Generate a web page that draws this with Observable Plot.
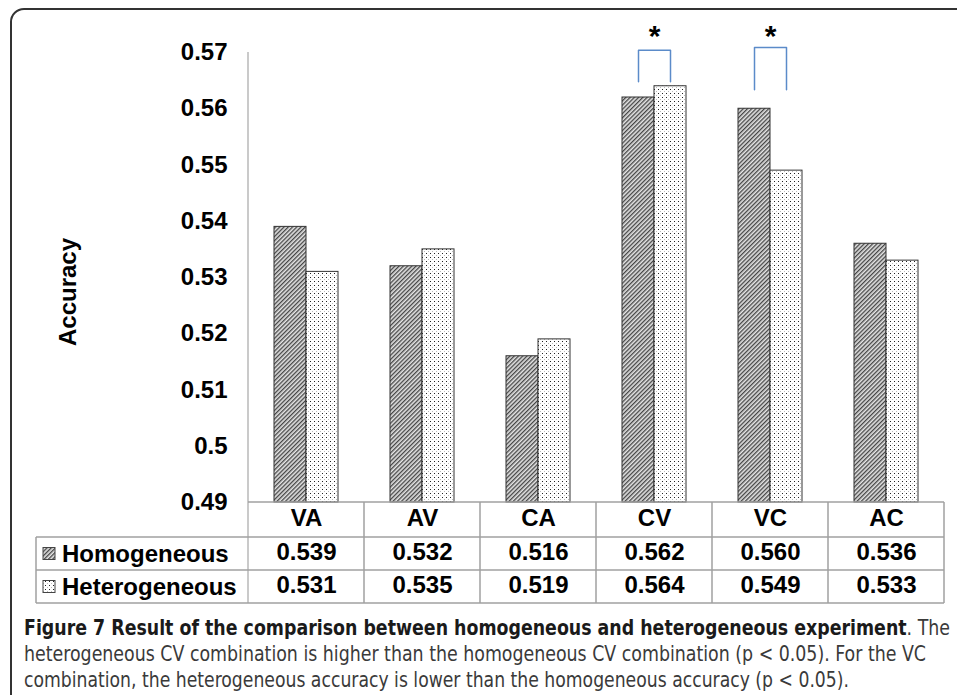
<!DOCTYPE html>
<html><head><meta charset="utf-8">
<script src="https://cdn.jsdelivr.net/npm/d3@7"></script>
<script src="https://cdn.jsdelivr.net/npm/@observablehq/plot@0.6"></script>
<style>
body{margin:0;background:#fff;width:957px;height:695px;overflow:hidden;position:relative;font-family:"Liberation Sans",Arial,sans-serif}
#frame{position:absolute;left:10px;top:8px;width:1000px;height:800px;border:2px solid #333;border-radius:14px;box-sizing:border-box;pointer-events:none}
#chart{position:absolute;left:0;top:0}
#caption{position:absolute;left:24px;top:615px;font-family:"Liberation Sans Narrow","DejaVu Sans Condensed",sans-serif;font-size:21px;line-height:26px;color:#3a3a3a}
#caption .ln{white-space:nowrap;transform-origin:0 50%;display:block;width:max-content}
#caption b{color:#1a1a1a}
</style></head><body>
<svg width="0" height="0" style="position:absolute">
  <defs>
    <pattern id="hatch" width="3" height="3" patternUnits="userSpaceOnUse" patternTransform="rotate(45)">
      <rect width="3" height="3" fill="#e4e4e4"/>
      <line x1="0.75" y1="0" x2="0.75" y2="3" stroke="#111" stroke-width="1"/>
    </pattern>
    <pattern id="dots" width="4" height="4" patternUnits="userSpaceOnUse">
      <rect width="4" height="4" fill="#fff"/>
      <rect x="1" y="1" width="1" height="1" fill="#222"/>
      <rect x="3" y="3" width="1" height="1" fill="#bbb"/>
    </pattern>
  </defs>
</svg>
<div id="frame"></div>
<div id="chart"></div>
<div id="caption">
  <span class="ln" id="l1"><b>Figure 7 Result of the comparison between homogeneous and heterogeneous experiment</b>. The</span>
  <span class="ln" id="l2">heterogeneous CV combination is higher than the homogeneous CV combination (p &lt; 0.05). For the VC</span>
  <span class="ln" id="l3">combination, the heterogeneous accuracy is lower than the homogeneous accuracy (p &lt; 0.05).</span>
</div>
<script>
// ---- data ----
const categories = ["VA", "AV", "CA", "CV", "VC", "AC"];
const series = ["Homogeneous", "Heterogeneous"];
const homogeneous = [0.539, 0.532, 0.516, 0.562, 0.560, 0.536];
const heterogeneous = [0.531, 0.535, 0.519, 0.564, 0.549, 0.533];
const yTicks = [0.49, 0.50, 0.51, 0.52, 0.53, 0.54, 0.55, 0.56, 0.57];
const sigCategories = ["CV", "VC"];
const bracketLow = [0.5648, 0.5634];
const bracketHigh = [0.5704, 0.5709];
const starValue = 0.5728;

// ---- derived tables ----
const rows = categories.flatMap((c, i) => [
  {cat: c, series: series[0], value: homogeneous[i]},
  {cat: c, series: series[1], value: heterogeneous[i]}
]);
const bracketPts = sigCategories.flatMap((c, i) => [
  {cat: c, series: series[0], y: bracketLow[i]},
  {cat: c, series: series[0], y: bracketHigh[i]},
  {cat: c, series: series[1], y: bracketHigh[i]},
  {cat: c, series: series[1], y: bracketLow[i]}
]);
const fmt3 = d3.format(".3f");
const W = 957, H = 612, plotBottom = 502;
const boldFont = {fontSize: 24, fontWeight: "bold", fill: "#000"};

const plot = Plot.plot({
  width: W, height: H,
  marginLeft: 247, marginRight: 13, marginTop: 52, marginBottom: H - plotBottom,
  style: {fontFamily: "'Liberation Sans', Arial, sans-serif", background: "transparent", overflow: "visible"},
  fx: {domain: categories, padding: 0, axis: null},
  x: {domain: series, paddingInner: 0, paddingOuter: 0.76, axis: null},
  y: {domain: [yTicks[0], yTicks[yTicks.length - 1]], axis: null},
  marks: [
    Plot.axisY(yTicks, {tickSize: 0, tickPadding: 21, fontSize: 24, fontWeight: "bold",
      tickFormat: d => String(+d.toFixed(2)), label: null}),
    Plot.barY(rows.filter(d => d.series === series[0]),
      {fx: "cat", x: "series", y1: yTicks[0], y2: "value", fill: "url(#hatch)", stroke: "#333", strokeWidth: 1}),
    Plot.barY(rows.filter(d => d.series === series[1]),
      {fx: "cat", x: "series", y1: yTicks[0], y2: "value", fill: "url(#dots)", stroke: "#333", strokeWidth: 1}),
    Plot.line(bracketPts, {fx: "cat", x: "series", y: "y", z: "cat", stroke: "#5b8bc9", strokeWidth: 1.5, strokeLinejoin: "round"}),
    Plot.text(sigCategories, {fx: d => d, y: () => starValue, text: () => "*", fontSize: 30, fontWeight: "bold", fill: "#000"}),
    Plot.text(categories, {fx: d => d, frameAnchor: "bottom", dy: 23, text: d => d, ...boldFont}),
    Plot.text(rows.filter(d => d.series === series[0]), {fx: "cat", frameAnchor: "bottom", dy: 57, text: d => fmt3(d.value), ...boldFont}),
    Plot.text(rows.filter(d => d.series === series[1]), {fx: "cat", frameAnchor: "bottom", dy: 90, text: d => fmt3(d.value), ...boldFont})
  ]
});
document.getElementById("chart").appendChild(plot);

// ---- table grid, axis line, legend, y label (positions from the plot's scales) ----
const svg = d3.select(plot);
const fx = plot.scale("fx"), y = plot.scale("y");
const x0 = fx.apply(categories[0]);
const step = fx.bandwidth;
const xEnd = fx.apply(categories[categories.length - 1]) + step;
const rowTops = [plotBottom, plotBottom + 35, plotBottom + 68, plotBottom + 101];
const legendLeft = 36;
const g = svg.append("g").attr("stroke", "#a0a0a0").attr("stroke-width", 1.5).attr("fill", "none");
// axis line
g.append("line").attr("x1", x0).attr("x2", x0).attr("y1", y.apply(yTicks[yTicks.length - 1])).attr("y2", rowTops[3]).attr("stroke", "#b8b8b8");
// horizontal lines
g.append("line").attr("x1", x0).attr("x2", xEnd).attr("y1", rowTops[0]).attr("y2", rowTops[0]);
for (const t of rowTops.slice(1)) g.append("line").attr("x1", legendLeft).attr("x2", xEnd).attr("y1", t).attr("y2", t);
// vertical lines
categories.forEach(c => {
  const xx = fx.apply(c) + step;
  g.append("line").attr("x1", xx).attr("x2", xx).attr("y1", rowTops[0]).attr("y2", rowTops[3]);
});
g.append("line").attr("x1", legendLeft).attr("x2", legendLeft).attr("y1", rowTops[1]).attr("y2", rowTops[3]);
// legend labels
const fills = ["url(#hatch)", "url(#dots)"];
series.forEach((s, i) => {
  const cy = (rowTops[i + 1] + rowTops[i + 2]) / 2;
  svg.append("rect").attr("x", 43).attr("y", cy - 6).attr("width", 12).attr("height", 12)
    .attr("fill", fills[i]).attr("stroke", "#444").attr("stroke-width", 1);
  svg.append("text").attr("x", 62).attr("y", cy).attr("dy", "0.36em").attr("text-anchor", "start")
    .attr("font-size", 24).attr("font-weight", "bold").attr("fill", "#000").text(s);
});
// y-axis title
svg.append("text").attr("transform", `translate(76,292) rotate(-90)`)
  .attr("text-anchor", "middle").attr("font-size", 24).attr("font-weight", "bold").attr("fill", "#000").text("Accuracy");

// ---- caption: fit each line to the reference width ----
const targets = {l1: 926, l2: 902, l3: 825};
for (const id in targets) {
  const el = document.getElementById(id);
  const w = el.getBoundingClientRect().width;
  el.style.transform = `scaleX(${targets[id] / w})`;
}
</script>
</body></html>
